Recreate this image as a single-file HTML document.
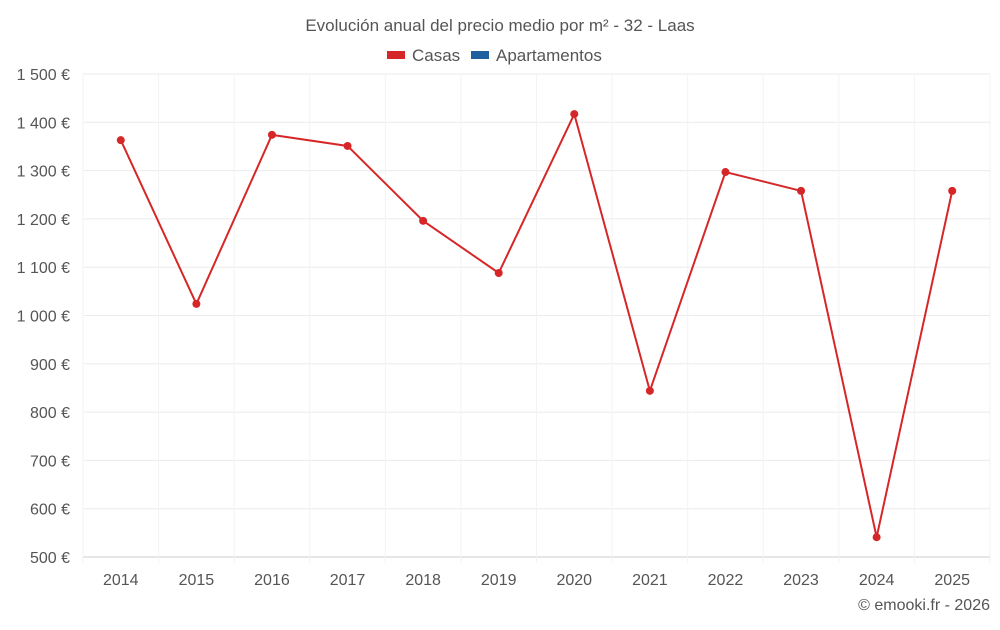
<!DOCTYPE html>
<html><head><meta charset="utf-8"><style>
body{margin:0;background:#fff;font-family:"Liberation Sans",sans-serif}
svg text{font-family:"Liberation Sans",sans-serif;fill:#555}
</style></head><body>
<svg width="1000" height="625">
<text x="500" y="31" text-anchor="middle" font-size="17">Evolución anual del precio medio por m² - 32 - Laas</text>
<g>
<rect x="387" y="51" width="18" height="8" fill="#d62728"/>
<text x="412" y="61" font-size="17">Casas</text>
<rect x="471" y="51" width="18" height="8" fill="#1f5fa0"/>
<text x="496" y="61" font-size="17">Apartamentos</text>
</g>
<g id="grid"></g><g id="axes"></g><g id="series"></g>
<text x="990" y="610" text-anchor="end" font-size="16">© emooki.fr - 2026</text>
</svg>
<script>
const years=["2014","2015","2016","2017","2018","2019","2020","2021","2022","2023","2024","2025"];
const casas=[1363,1024,1374,1351,1196,1088,1417,844,1297,1258,541,1258];
const yTicks=[500,600,700,800,900,1000,1100,1200,1300,1400,1500];
const yTickLabels=["500 €","600 €","700 €","800 €","900 €","1 000 €","1 100 €","1 200 €","1 300 €","1 400 €","1 500 €"];
const L=83,R=990,T=74,B=557,ymin=500,ymax=1500;
const bw=(R-L)/years.length;
const x=i=>L+bw*(i+0.5);
const y=v=>B-(v-ymin)/(ymax-ymin)*(B-T);
const NS="http://www.w3.org/2000/svg";
function mk(tag,attrs,parent){const e=document.createElementNS(NS,tag);for(const k in attrs)e.setAttribute(k,attrs[k]);document.getElementById(parent).appendChild(e);return e;}
yTicks.forEach((t,i)=>{
 const g=mk("line",{x1:L,x2:R,y1:y(t),y2:y(t),stroke:i===0?"#ccc":"#ebebeb"},"grid");
 
 
 const tx=mk("text",{x:70,y:y(t)+6,"text-anchor":"end","font-size":"16"},"axes");
 tx.textContent=yTickLabels[i];
 
 
});
for(let i=0;i<=years.length;i++){
 const g=mk("line",{x1:L+bw*i,x2:L+bw*i,y1:T,y2:B+6,stroke:"#f3f3f3"},"grid");
 
 
}
years.forEach((yr,i)=>{
 const tx=mk("text",{x:x(i),y:585,"text-anchor":"middle","font-size":"16"},"axes");
 tx.textContent=yr;
 
 
});
const line=mk("polyline",{points:casas.map((v,i)=>x(i)+","+y(v)).join(" "),fill:"none",stroke:"#d62728","stroke-width":"2"},"series");


casas.forEach((v,i)=>{
 const c=mk("circle",{cx:x(i),cy:y(v),r:4,fill:"#d62728"},"series");
 
 
});
</script>
</body></html>
